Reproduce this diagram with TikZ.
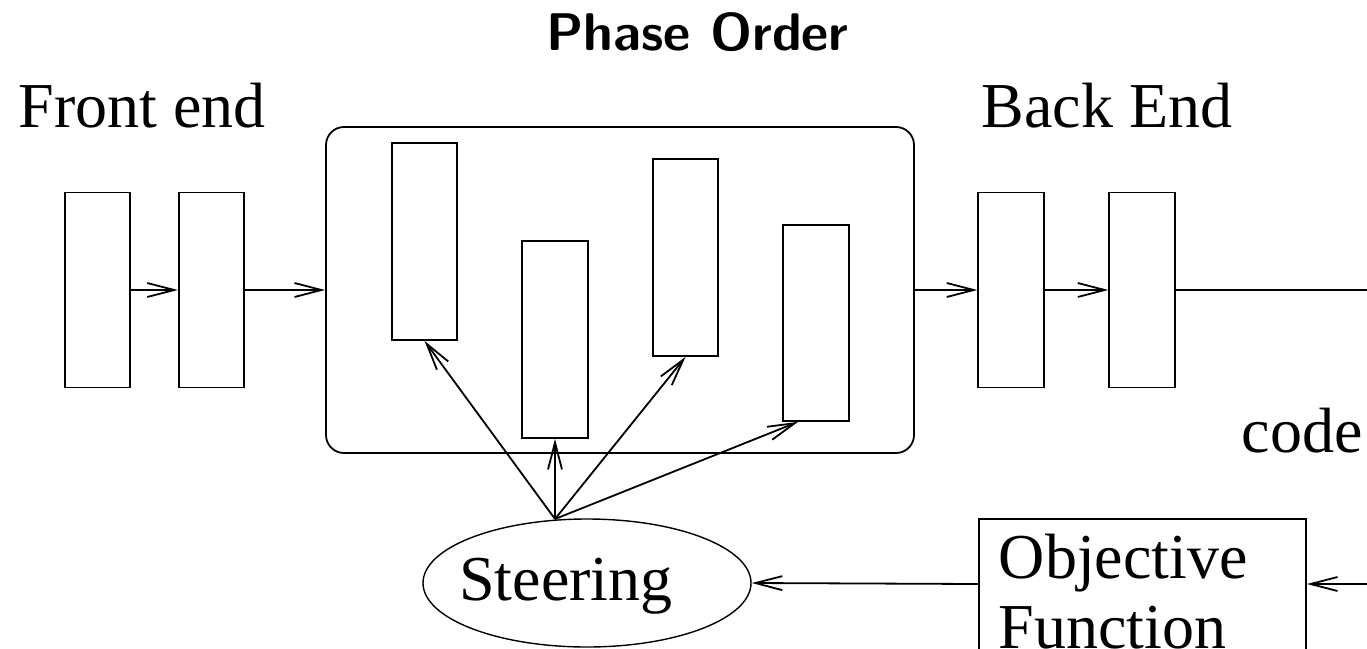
\documentclass[tikz,border=0pt]{standalone}
\usepackage{fontspec}
\setmainfont{Liberation Serif}
\usetikzlibrary{arrows.meta,shapes.geometric,calc}
\begin{document}
\begin{tikzpicture}[x=1pt,y=-1pt,
  line width=1.8pt,
  arr/.style={-{Straight Barb[length=27pt,width=14pt,line width=1.8pt]}},
  pbox/.style={draw,rectangle,inner sep=0pt,minimum width=65.5pt,minimum height=195pt},
  lbl/.style={font=\fontsize{64}{70}\selectfont,inner sep=0pt,anchor=base},
]
\useasboundingbox (0,0) rectangle (1367,648);
\clip (0,0) rectangle (1367,648);
% front end
\node[pbox] (fe1) at (97.5,290) {};
\node[pbox] (fe2) at (211.5,290) {};
% phase order box
\node[draw,rectangle,rounded corners=18pt,inner sep=0pt,minimum width=588pt,minimum height=326pt] (big) at (620,290) {};
\node[pbox,minimum height=197pt] (A) at (424.5,241.5) {};
\node[pbox,minimum height=197pt] (B) at (555,339.5) {};
\node[pbox,minimum height=197pt] (C) at (685.5,257.5) {};
\node[pbox,minimum height=196pt] (D) at (816,323) {};
% back end
\node[pbox] (be1) at (1011,290) {};
\node[pbox] (be2) at (1142,290) {};
\coordinate (outr) at (1367,290);
% steering and objective
\node[draw,ellipse,line width=1.4pt,inner sep=0pt,minimum width=328pt,minimum height=128pt] (st) at (587,583) {};
\node[lbl] (sttxt) at (566,600) {Steering};
\node[draw,rectangle,inner sep=0pt,minimum width=327pt,minimum height=200pt] (obj) at (1142.5,619) {};
\node[lbl,anchor=base west] (objtxt1) at (998,578) {Objective};
\node[lbl,anchor=base west] (objtxt2) at (998,648) {Function};
\coordinate (inr) at (1367,584);
\coordinate (so) at (555,519);
% labels
\node[lbl] (ttl) at (697.5,50) {\sffamily\bfseries\fontsize{53}{58}\selectfont Phase Order};
\node[lbl] (fetxt) at (142,127) {Front end};
\node[lbl] (betxt) at (1107,127) {Back End};
\node[lbl] (codetxt) at (1302,452) {code};
% connectors
\draw[arr] (fe1.east) -- (fe2.west);
\draw[arr] (fe2.east) -- (big.west);
\draw[arr] (big.east) -- (be1.west);
\draw[arr] (be1.east) -- (be2.west);
\draw (be2.east) -- (outr);
\draw[arr] (inr) -- (inr -| obj.east);
\draw[arr] (inr -| obj.west) -- (st.east);
\draw[arr] (so) -- (A.south);
\draw[arr] (so) -- (B.south);
\draw[arr] (so) -- (C.south);
\draw[arr] (so) -- ($(D.south)+(-18,0)$);
\end{tikzpicture}
\end{document}
